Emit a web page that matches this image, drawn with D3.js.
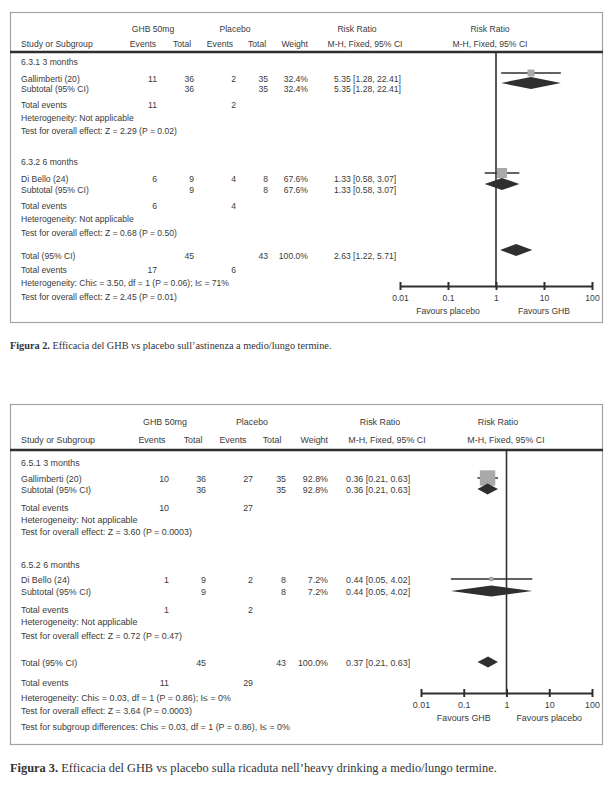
<!DOCTYPE html>
<html><head><meta charset="utf-8">
<script src="https://cdn.jsdelivr.net/npm/d3@7"></script>
<style>html,body{margin:0;padding:0;background:#fff;} svg{display:block;}</style>
</head><body>
<svg id="c" width="612" height="787"></svg>
<script>
// ---------- shared ----------
const axisTicks = [0.01, 0.1, 1, 10, 100];
const headerTop = ["GHB 50mg", "Placebo", "Risk Ratio", "Risk Ratio"];
const headerCols = ["Study or Subgroup", "Events", "Total", "Events", "Total", "Weight", "M-H, Fixed, 95% CI", "M-H, Fixed, 95% CI"];

// ---------- Figura 2 data ----------
const f2Groups = ["6.3.1 3 months", "6.3.2 6 months"];
const f2Studies = ["Gallimberti (20)", "Di Bello (24)"];
const f2GhbEvents = [11, 6];
const f2GhbTotal = [36, 9];
const f2PlaEvents = [2, 4];
const f2PlaTotal = [35, 8];
const f2Weights = [32.4, 67.6];
const f2RR = [5.35, 1.33];
const f2Low = [1.28, 0.58];
const f2High = [22.41, 3.07];
const f2Hetero = ["Heterogeneity: Not applicable", "Heterogeneity: Not applicable"];
const f2Tests = ["Test for overall effect: Z = 2.29 (P = 0.02)", "Test for overall effect: Z = 0.68 (P = 0.50)"];
const f2TotalN = [45, 43];
const f2TotalEvents = [17, 6];
const f2TotalRR = [2.63, 1.22, 5.71];
const f2Footer = ["Heterogeneity: Chi\u2264 = 3.50, df = 1 (P = 0.06); I\u2264 = 71%", "Test for overall effect: Z = 2.45 (P = 0.01)"];
const f2Favours = ["Favours placebo", "Favours GHB"];
const f2Caption = ["Figura 2.", " Efficacia del GHB vs placebo sull\u2019astinenza a medio/lungo termine."];

// ---------- Figura 3 data ----------
const f3Groups = ["6.5.1 3 months", "6.5.2 6 months"];
const f3Studies = ["Gallimberti (20)", "Di Bello (24)"];
const f3GhbEvents = [10, 1];
const f3GhbTotal = [36, 9];
const f3PlaEvents = [27, 2];
const f3PlaTotal = [35, 8];
const f3Weights = [92.8, 7.2];
const f3RR = [0.36, 0.44];
const f3Low = [0.21, 0.05];
const f3High = [0.63, 4.02];
const f3Hetero = ["Heterogeneity: Not applicable", "Heterogeneity: Not applicable"];
const f3Tests = ["Test for overall effect: Z = 3.60 (P = 0.0003)", "Test for overall effect: Z = 0.72 (P = 0.47)"];
const f3TotalN = [45, 43];
const f3TotalEvents = [11, 29];
const f3TotalRR = [0.37, 0.21, 0.63];
const f3Footer = ["Heterogeneity: Chi\u2264 = 0.03, df = 1 (P = 0.86); I\u2264 = 0%", "Test for overall effect: Z = 3.64 (P = 0.0003)", "Test for subgroup differences: Chi\u2264 = 0.03, df = 1 (P = 0.86), I\u2264 = 0%"];
const f3Favours = ["Favours GHB", "Favours placebo"];
const f3Caption = ["Figura 3.", " Efficacia del GHB vs placebo sulla ricaduta nell\u2019heavy drinking a medio/lungo termine."];

// ---------- layouts ----------
const rowKeys = ["h1","h2","grp0","study0","sub0","te0","het0","test0","grp1","study1","sub1","te1","het1","test1","tot","tote","foot0","foot1","foot2"];
const L2 = {
  fs: 8.6, box: [10, 12, 602, 322], thickY: 52,
  rowYs: [29,44,62,79,89,105,118,131,162,179,190,206,219,233,256,270,283,297,311],
  left: 21, heads: [153, 235, 357, 490], colC: [143, 182, 220, 257], weightR: 308, mh: [365, 490],
  numR: [157, 194, 236, 268], ciLeft: 334, axisRange: [400, 592], axisY: 286, tickLabY: 298, favY: 311,
  markDy: -6, sqMax: 12.2, dH: 6, capY: 345, capW: 322
};
const L3 = {
  fs: 8.9, box: [10, 404, 602, 744], thickY: 450,
  rowYs: [422,440,463,479,490,508,520,532,565,580,592,610,622,636,663,683,698,711,727],
  left: 21, heads: [165, 252, 380, 498], colC: [152, 193, 233, 272], weightR: 328, mh: [387, 506],
  numR: [169, 206, 253, 286], ciLeft: 346, axisRange: [421, 592], axisY: 693, tickLabY: 705, favY: 718,
  markDy: -1, sqMax: 16, dH: 5.5, capY: 768, capW: 487
};

function buildData(p) {
  return {
    groups: p.groups.map((name, i) => ({
      name, study: p.studies[i], ge: p.ge[i], gt: p.gt[i], pe: p.pe[i], pt: p.pt[i],
      w: p.w[i], rr: p.rr[i], lo: p.lo[i], hi: p.hi[i], het: p.het[i], test: p.test[i]
    })),
    totN: p.totN, totE: p.totE, totRR: p.totRR, footer: p.footer, favours: p.favours, caption: p.caption
  };
}
const D2 = buildData({groups: f2Groups, studies: f2Studies, ge: f2GhbEvents, gt: f2GhbTotal, pe: f2PlaEvents, pt: f2PlaTotal,
  w: f2Weights, rr: f2RR, lo: f2Low, hi: f2High, het: f2Hetero, test: f2Tests, totN: f2TotalN, totE: f2TotalEvents,
  totRR: f2TotalRR, footer: f2Footer, favours: f2Favours, caption: f2Caption});
const D3 = buildData({groups: f3Groups, studies: f3Studies, ge: f3GhbEvents, gt: f3GhbTotal, pe: f3PlaEvents, pt: f3PlaTotal,
  w: f3Weights, rr: f3RR, lo: f3Low, hi: f3High, het: f3Hetero, test: f3Tests, totN: f3TotalN, totE: f3TotalEvents,
  totRR: f3TotalRR, footer: f3Footer, favours: f3Favours, caption: f3Caption});

const svg = d3.select("#c");
const TXT = "#3b3b3b", DARK = "#2f2f2f";
const ciFmt = (rr, lo, hi) => `${rr.toFixed(2)} [${lo.toFixed(2)}, ${hi.toFixed(2)}]`;

function drawForest(L, D) {
  const root = svg.append("g");
  const y = d3.scaleOrdinal().domain(rowKeys).range(L.rowYs);
  const x = d3.scaleLog().domain(d3.extent(axisTicks)).range(L.axisRange);
  const sq = d3.scaleSqrt().domain([0, 100]).range([0, L.sqMax]);
  const base = k => y(k) + L.fs * 0.36;
  const my = k => y(k) + L.markDy;

  root.append("rect").attr("x", L.box[0] + 0.5).attr("y", L.box[1] + 0.5)
    .attr("width", L.box[2] - L.box[0]).attr("height", L.box[3] - L.box[1])
    .attr("fill", "none").attr("stroke", "#a3a3a3").attr("stroke-width", 1.2);

  const g = root.append("g").attr("font-family", "'Liberation Sans', Arial, Helvetica, sans-serif")
    .attr("font-size", L.fs).attr("fill", TXT);
  const txt = (s, xp, k, anchor) => g.append("text").attr("x", xp).attr("y", base(k))
    .attr("text-anchor", anchor || "start").text(s);

  // headers
  txt(headerTop[0], L.heads[0], "h1", "middle");
  txt(headerTop[1], L.heads[1], "h1", "middle");
  txt(headerTop[2], L.heads[2], "h1", "middle");
  txt(headerTop[3], L.heads[3], "h1", "middle");
  txt(headerCols[0], L.left, "h2");
  L.colC.forEach((c, i) => txt(headerCols[1 + i], c, "h2", "middle"));
  txt(headerCols[5], L.weightR, "h2", "end");
  txt(headerCols[6], L.mh[0], "h2", "middle");
  txt(headerCols[7], L.mh[1], "h2", "middle");

  root.append("line").attr("x1", L.box[0]).attr("x2", L.box[2] + 1)
    .attr("y1", L.thickY).attr("y2", L.thickY).attr("stroke", DARK).attr("stroke-width", 2.4);

  // line of no effect
  root.append("line").attr("x1", x(1)).attr("x2", x(1)).attr("y1", L.thickY).attr("y2", L.axisY)
    .attr("stroke", DARK).attr("stroke-width", 1.6);

  D.groups.forEach((d, i) => {
    txt(d.name, L.left, "grp" + i);
    txt(d.study, L.left, "study" + i);
    txt(d.ge, L.numR[0], "study" + i, "end");
    txt(d.gt, L.numR[1], "study" + i, "end");
    txt(d.pe, L.numR[2], "study" + i, "end");
    txt(d.pt, L.numR[3], "study" + i, "end");
    txt(d.w.toFixed(1) + "%", L.weightR, "study" + i, "end");
    txt(ciFmt(d.rr, d.lo, d.hi), L.ciLeft, "study" + i);
    txt("Subtotal (95% CI)", L.left, "sub" + i);
    txt(d.gt, L.numR[1], "sub" + i, "end");
    txt(d.pt, L.numR[3], "sub" + i, "end");
    txt(d.w.toFixed(1) + "%", L.weightR, "sub" + i, "end");
    txt(ciFmt(d.rr, d.lo, d.hi), L.ciLeft, "sub" + i);
    txt("Total events", L.left, "te" + i);
    txt(d.ge, L.numR[0], "te" + i, "end");
    txt(d.pe, L.numR[2], "te" + i, "end");
    txt(d.het, L.left, "het" + i);
    txt(d.test, L.left, "test" + i);

    // study marker: CI line + square
    const cy = my("study" + i);
    root.append("line").attr("x1", x(d.lo)).attr("x2", x(d.hi)).attr("y1", cy).attr("y2", cy)
      .attr("stroke", DARK).attr("stroke-width", 1.5);
    const s = sq(d.w);
    root.append("rect").attr("x", x(d.rr) - s / 2).attr("y", cy - s / 2).attr("width", s).attr("height", s)
      .attr("fill", "#a9a9a9");
    // subtotal diamond
    diamond(root, x, d.rr, d.lo, d.hi, my("sub" + i), L.dH);
  });

  txt("Total (95% CI)", L.left, "tot");
  txt(D.totN[0], L.numR[1], "tot", "end");
  txt(D.totN[1], L.numR[3], "tot", "end");
  txt("100.0%", L.weightR, "tot", "end");
  txt(ciFmt(D.totRR[0], D.totRR[1], D.totRR[2]), L.ciLeft, "tot");
  diamond(root, x, D.totRR[0], D.totRR[1], D.totRR[2], my("tot"), L.dH);
  txt("Total events", L.left, "tote");
  txt(D.totE[0], L.numR[0], "tote", "end");
  txt(D.totE[1], L.numR[2], "tote", "end");
  D.footer.forEach((f, i) => txt(f, L.left, "foot" + i));

  // axis
  const ax = root.append("g").attr("transform", `translate(0,${L.axisY})`)
    .call(d3.axisBottom(x).tickValues(axisTicks).tickFormat(d3.format("~g")).tickSizeOuter(0).tickSizeInner(4));
  ax.select(".domain").attr("stroke", DARK).attr("stroke-width", 2);
  ax.selectAll(".tick line").attr("y1", -4).attr("y2", 4).attr("stroke", DARK).attr("stroke-width", 2);
  ax.selectAll(".tick text").attr("y", L.tickLabY - L.axisY + L.fs * 0.36).attr("dy", null)
    .attr("font-family", "'Liberation Sans', Arial, sans-serif").attr("font-size", L.fs).attr("fill", TXT);
  g.append("text").attr("x", x(0.1)).attr("y", L.favY + L.fs * 0.36).attr("text-anchor", "middle").text(D.favours[0]);
  g.append("text").attr("x", x(10)).attr("y", L.favY + L.fs * 0.36).attr("text-anchor", "middle").text(D.favours[1]);

  // caption
  const cap = svg.append("text").attr("x", L.box[0]).attr("y", L.capY + 3.5)
    .attr("font-family", "'Liberation Serif', 'Times New Roman', serif").attr("font-size", 10).attr("fill", "#333");
  cap.append("tspan").attr("font-weight", "bold").text(D.caption[0]);
  cap.append("tspan").text(D.caption[1]);
  const w = cap.node().getComputedTextLength();
  cap.attr("font-size", 10 * L.capW / w);
}

function diamond(root, x, rr, lo, hi, cy, h) {
  const pts = [[x(lo), cy], [x(rr), cy - h], [x(hi), cy], [x(rr), cy + h]];
  root.append("path").attr("d", d3.line()(pts) + "Z").attr("fill", DARK);
}

drawForest(L2, D2);
drawForest(L3, D3);
</script>
</body></html>
